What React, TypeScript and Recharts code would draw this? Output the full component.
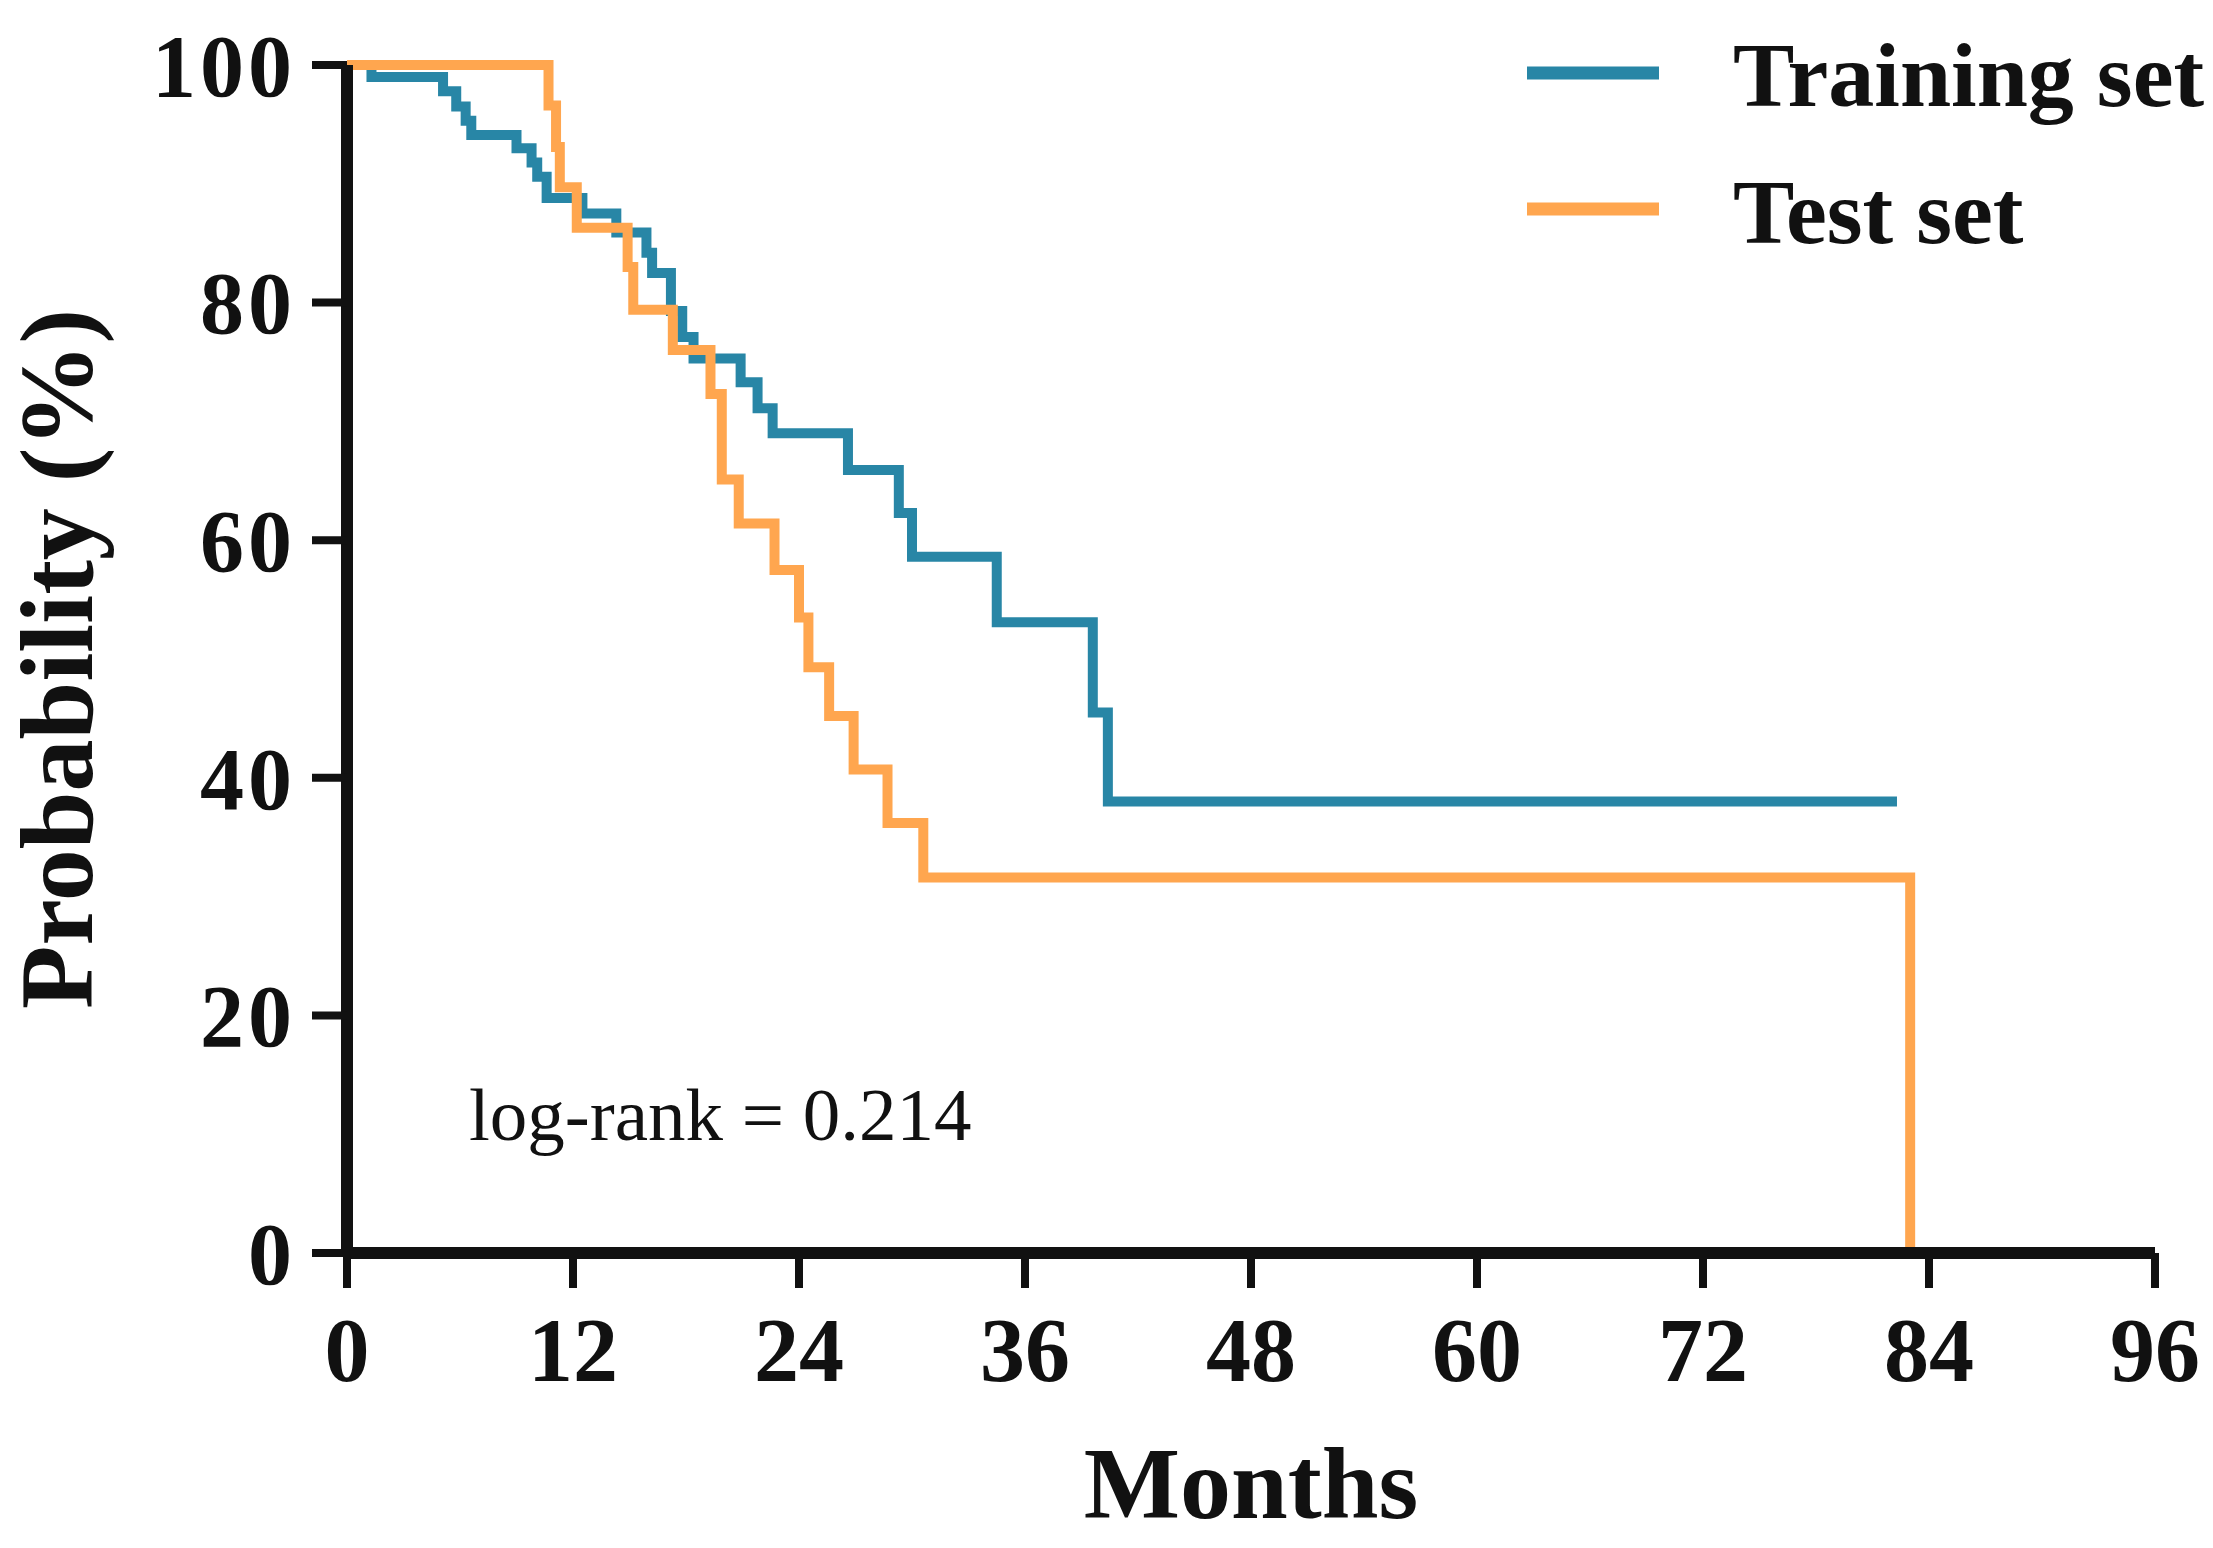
import { LineChart, Line, XAxis, YAxis, Legend, Customized } from 'recharts'

// Kaplan-Meier steps (month of event, survival %)
const trainingMonths = [0, 1.3, 5.1, 5.8, 6.3, 6.6, 9.0, 9.8, 10.1, 10.6, 12.5, 14.3, 15.9, 16.2, 17.2, 17.8, 18.4, 20.9, 21.8, 22.6, 26.6, 29.3, 30.0, 34.5, 39.6, 40.4, 82.3]
const trainingSurvival = [100, 99.0, 97.8, 96.5, 95.3, 94.1, 93.0, 91.8, 90.6, 88.8, 87.5, 85.9, 84.2, 82.5, 79.3, 77.1, 75.3, 73.3, 71.1, 69.0, 65.9, 62.3, 58.6, 53.1, 45.5, 38.0, 38.0]

const testMonths = [0, 10.7, 11.1, 11.3, 12.2, 14.9, 15.2, 17.3, 19.3, 19.9, 20.8, 22.7, 24.0, 24.5, 25.6, 26.9, 28.7, 30.6, 83.0]
const testSurvival = [100, 96.6, 93.1, 89.7, 86.3, 83.0, 79.4, 76.0, 72.3, 65.1, 61.4, 57.5, 53.5, 49.3, 45.2, 40.7, 36.2, 31.6, 0]

const seriesNames = ['Training set', 'Test set']
const monthTicks = [0, 12, 24, 36, 48, 60, 72, 84, 96]
const probTicks = [0, 20, 40, 60, 80, 100]
const logRankText = 'log-rank = 0.214'

const trainingData = trainingMonths.map((m, i) => ({ month: m, prob: trainingSurvival[i] }))
const testData = testMonths.map((m, i) => ({ month: m, prob: testSurvival[i] }))

const FONT = '"Liberation Serif", "Times New Roman", serif'
const INK = '#111111'
const BLUE = '#2886a6'
const ORANGE = '#ffa64f'

function XTick(props: any) {
  const { x, y, payload } = props
  return (
    <text x={x} y={y} dy={93} textAnchor="middle" fontFamily={FONT} fontWeight="bold" fontSize={90} fill={INK}>
      {payload.value}
    </text>
  )
}

function YTick(props: any) {
  const { x, y, payload } = props
  return (
    <text x={x} y={y} dy="0.35em" textAnchor="end" fontFamily={FONT} fontWeight="bold" fontSize={88} letterSpacing={4} fill={INK}>
      {payload.value}
    </text>
  )
}

// legend keeps the series order of the original figure
function LegendBox(props: any) {
  const items = [...(props.payload || [])].sort(
    (a: any, b: any) => seriesNames.indexOf(a.value) - seriesNames.indexOf(b.value)
  )
  return (
    <svg width={713} height={280}>
      {items.map((it: any, i: number) => (
        <g key={it.value}>
          <line x1={27} x2={159} y1={73 + 136 * i} y2={73 + 136 * i} stroke={it.color} strokeWidth={13} />
          <text x={233} y={106 + 137 * i} fontFamily={FONT} fontWeight="bold" fontSize={92} fill={INK}>
            {it.value}
          </text>
        </g>
      ))}
    </svg>
  )
}

export default function App() {
  return (
    <div style={{ position: 'absolute', left: 0, top: 0, width: 2213, height: 1548, background: '#fff' }}>
      <LineChart width={2213} height={1548} margin={{ top: 65, right: 58, bottom: 0, left: 0 }}>
        <XAxis
          type="number"
          dataKey="month"
          domain={[0, 96]}
          ticks={monthTicks}
          height={295}
          tickSize={35}
          tickMargin={0}
          axisLine={{ stroke: INK, strokeWidth: 12 }}
          tickLine={{ stroke: INK, strokeWidth: 8 }}
          tick={<XTick />}
          allowDuplicatedCategory={false}
          label={{
            content: (p: any) => (
              <text
                x={p.viewBox.x + p.viewBox.width / 2}
                y={1518}
                textAnchor="middle"
                fontFamily={FONT}
                fontWeight="bold"
                fontSize={102}
                fill={INK}
              >
                Months
              </text>
            ),
          }}
        />
        <YAxis
          type="number"
          domain={[0, 100]}
          ticks={probTicks}
          width={347}
          tickSize={35}
          tickMargin={16}
          axisLine={{ stroke: INK, strokeWidth: 12 }}
          tickLine={{ stroke: INK, strokeWidth: 8 }}
          tick={<YTick />}
          label={{
            content: (p: any) => {
              const cy = p.viewBox.y + p.viewBox.height / 2
              return (
                <text
                  x={92}
                  y={cy}
                  transform={`rotate(-90 92 ${cy})`}
                  textAnchor="middle"
                  fontFamily={FONT}
                  fontWeight="bold"
                  fontSize={104}
                  fill={INK}
                >
                  Probability (%)
                </text>
              )
            },
          }}
        />
        <Legend
          layout="horizontal"
          verticalAlign="middle"
          align="center"
          content={<LegendBox />}
          wrapperStyle={{ left: 1500, top: 0, width: 713, height: 280 }}
        />
        <Line
          data={trainingData}
          dataKey="prob"
          name={seriesNames[0]}
          type="stepAfter"
          stroke={BLUE}
          strokeWidth={10}
          dot={false}
          activeDot={false}
          isAnimationActive={false}
        />
        <Line
          data={testData}
          dataKey="prob"
          name={seriesNames[1]}
          type="stepAfter"
          stroke={ORANGE}
          strokeWidth={10}
          dot={false}
          activeDot={false}
          isAnimationActive={false}
        />
        <Customized
          component={() => (
            <text x={469} y={1140} fontFamily={FONT} fontSize={75} fill={INK}>
              {logRankText}
            </text>
          )}
        />
      </LineChart>
    </div>
  )
}
